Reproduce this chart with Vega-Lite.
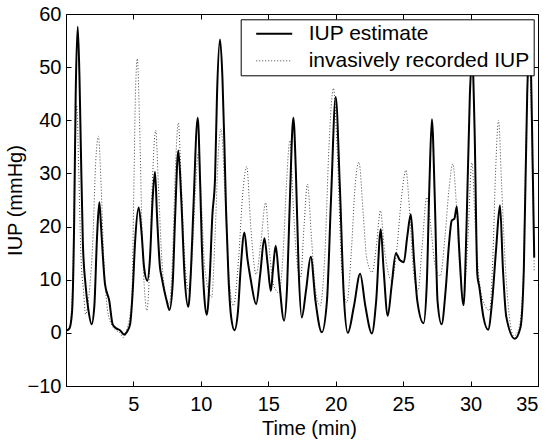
{
  "$schema": "https://vega.github.io/schema/vega-lite/v6.json",
  "width": 472,
  "height": 372,
  "autosize": {"type": "none"},
  "padding": {"left": 66, "top": 14, "right": 12, "bottom": 58},
  "background": "white",
  "config": {
    "font": "Liberation Sans",
    "view": {"stroke": "black", "strokeWidth": 1},
    "axis": {
      "domainColor": "black", "domainWidth": 1, "tickColor": "black", "tickWidth": 1,
      "labelColor": "black", "titleColor": "black", "labelFontSize": 20, "titleFontSize": 20,
      "titleFontWeight": "normal", "grid": false, "labelFont": "Liberation Sans", "titleFont": "Liberation Sans"
    }
  },
  "data": {"values": [
    {"series":"est","time":0,"iup":0.4},{"series":"est","time":0.25,"iup":0.8},{"series":"est","time":0.45,"iup":4},{"series":"est","time":0.6,"iup":20},{"series":"est","time":0.72,"iup":45},{"series":"est","time":0.87,"iup":57.6},{"series":"est","time":1.0,"iup":48},{"series":"est","time":1.1,"iup":35},{"series":"est","time":1.25,"iup":17},{"series":"est","time":1.45,"iup":9},{"series":"est","time":1.65,"iup":4.5},{"series":"est","time":1.9,"iup":1.6},{"series":"est","time":2.1,"iup":5},{"series":"est","time":2.3,"iup":18},{"series":"est","time":2.47,"iup":24.6},{"series":"est","time":2.6,"iup":20},{"series":"est","time":2.72,"iup":15},{"series":"est","time":2.89,"iup":9.2},{"series":"est","time":3.21,"iup":6},{"series":"est","time":3.46,"iup":1.6},{"series":"est","time":3.76,"iup":0.8},{"series":"est","time":4.0,"iup":0.5},{"series":"est","time":4.3,"iup":-0.3},{"series":"est","time":4.55,"iup":0.3},{"series":"est","time":4.75,"iup":1.6},{"series":"est","time":4.95,"iup":8},{"series":"est","time":5.12,"iup":17},{"series":"est","time":5.39,"iup":23.6},{"series":"est","time":5.61,"iup":18.6},{"series":"est","time":5.79,"iup":12.3},{"series":"est","time":6.03,"iup":9.8},{"series":"est","time":6.23,"iup":14.2},{"series":"est","time":6.42,"iup":25},{"series":"est","time":6.6,"iup":30.3},{"series":"est","time":6.75,"iup":22},{"series":"est","time":6.97,"iup":12.3},{"series":"est","time":7.1,"iup":10.4},{"series":"est","time":7.47,"iup":6},{"series":"est","time":7.67,"iup":4.3},{"series":"est","time":7.91,"iup":9.2},{"series":"est","time":8.09,"iup":21.7},{"series":"est","time":8.33,"iup":34.3},{"series":"est","time":8.55,"iup":25},{"series":"est","time":8.8,"iup":10.4},{"series":"est","time":9.07,"iup":4.9},{"series":"est","time":9.27,"iup":12},{"series":"est","time":9.44,"iup":23},{"series":"est","time":9.77,"iup":40.5},{"series":"est","time":9.95,"iup":28},{"series":"est","time":10.07,"iup":16.7},{"series":"est","time":10.25,"iup":7},{"series":"est","time":10.44,"iup":3.4},{"series":"est","time":10.65,"iup":10},{"series":"est","time":10.85,"iup":22},{"series":"est","time":11.05,"iup":29},{"series":"est","time":11.2,"iup":45},{"series":"est","time":11.42,"iup":55.2},{"series":"est","time":11.6,"iup":48},{"series":"est","time":11.75,"iup":35},{"series":"est","time":11.87,"iup":23},{"series":"est","time":12.05,"iup":10.4},{"series":"est","time":12.25,"iup":2.9},{"series":"est","time":12.49,"iup":0.5},{"series":"est","time":12.75,"iup":4},{"series":"est","time":12.95,"iup":12},{"series":"est","time":13.23,"iup":18.9},{"series":"est","time":13.45,"iup":14},{"series":"est","time":13.7,"iup":10},{"series":"est","time":14.1,"iup":5.4},{"series":"est","time":14.4,"iup":11},{"series":"est","time":14.71,"iup":17.8},{"series":"est","time":14.95,"iup":13},{"series":"est","time":15.19,"iup":7.9},{"series":"est","time":15.35,"iup":12},{"series":"est","time":15.55,"iup":16.4},{"series":"est","time":15.8,"iup":10},{"series":"est","time":16.17,"iup":2.3},{"series":"est","time":16.4,"iup":9},{"series":"est","time":16.6,"iup":25},{"series":"est","time":16.86,"iup":40.5},{"series":"est","time":17.05,"iup":30},{"series":"est","time":17.25,"iup":12},{"series":"est","time":17.48,"iup":2.9},{"series":"est","time":17.8,"iup":8},{"series":"est","time":18.15,"iup":14.3},{"series":"est","time":18.5,"iup":6},{"series":"est","time":18.97,"iup":0.1},{"series":"est","time":19.35,"iup":6},{"series":"est","time":19.65,"iup":25},{"series":"est","time":20.0,"iup":44.4},{"series":"est","time":20.3,"iup":28},{"series":"est","time":20.6,"iup":7},{"series":"est","time":20.9,"iup":0},{"series":"est","time":21.35,"iup":5},{"series":"est","time":21.81,"iup":11.1},{"series":"est","time":22.2,"iup":5},{"series":"est","time":22.68,"iup":-0.1},{"series":"est","time":23.0,"iup":6},{"series":"est","time":23.34,"iup":19.5},{"series":"est","time":23.55,"iup":12},{"series":"est","time":23.86,"iup":3.2},{"series":"est","time":24.15,"iup":9},{"series":"est","time":24.46,"iup":15},{"series":"est","time":24.75,"iup":13.7},{"series":"est","time":25.05,"iup":13.3},{"series":"est","time":25.3,"iup":18},{"series":"est","time":25.57,"iup":22.3},{"series":"est","time":25.8,"iup":14},{"series":"est","time":26.05,"iup":6},{"series":"est","time":26.51,"iup":1.8},{"series":"est","time":26.75,"iup":9},{"series":"est","time":26.95,"iup":28},{"series":"est","time":27.13,"iup":40.2},{"series":"est","time":27.35,"iup":25},{"series":"est","time":27.55,"iup":6},{"series":"est","time":27.85,"iup":1.6},{"series":"est","time":28.15,"iup":8},{"series":"est","time":28.4,"iup":16.7},{"series":"est","time":28.6,"iup":21.1},{"series":"est","time":28.8,"iup":21.5},{"series":"est","time":28.98,"iup":23.8},{"series":"est","time":29.15,"iup":16},{"series":"est","time":29.48,"iup":5.2},{"series":"est","time":29.7,"iup":20},{"series":"est","time":29.95,"iup":45},{"series":"est","time":30.12,"iup":52},{"series":"est","time":30.3,"iup":38},{"series":"est","time":30.5,"iup":11},{"series":"est","time":30.65,"iup":8.6},{"series":"est","time":30.95,"iup":3},{"series":"est","time":31.3,"iup":0.6},{"series":"est","time":31.6,"iup":6},{"series":"est","time":31.9,"iup":16},{"series":"est","time":32.18,"iup":24},{"series":"est","time":32.4,"iup":12},{"series":"est","time":32.65,"iup":3},{"series":"est","time":33.28,"iup":-1.1},{"series":"est","time":33.7,"iup":1},{"series":"est","time":33.95,"iup":12},{"series":"est","time":34.2,"iup":45},{"series":"est","time":34.4,"iup":56},{"series":"est","time":34.55,"iup":40},{"series":"est","time":34.72,"iup":14.2},
    {"series":"inv","time":0,"iup":0.3},{"series":"inv","time":0.3,"iup":1.5},{"series":"inv","time":0.5,"iup":10},{"series":"inv","time":0.65,"iup":32},{"series":"inv","time":0.79,"iup":42.8},{"series":"inv","time":0.95,"iup":30},{"series":"inv","time":1.1,"iup":15},{"series":"inv","time":1.3,"iup":7.9},{"series":"inv","time":1.45,"iup":3.5},{"series":"inv","time":1.7,"iup":7},{"series":"inv","time":2.0,"iup":18},{"series":"inv","time":2.2,"iup":32},{"series":"inv","time":2.4,"iup":37},{"series":"inv","time":2.6,"iup":28},{"series":"inv","time":2.8,"iup":14},{"series":"inv","time":3.0,"iup":6},{"series":"inv","time":3.3,"iup":2},{"series":"inv","time":3.7,"iup":0.5},{"series":"inv","time":4.0,"iup":0},{"series":"inv","time":4.25,"iup":-0.9},{"series":"inv","time":4.5,"iup":0.5},{"series":"inv","time":4.87,"iup":6},{"series":"inv","time":5.05,"iup":30},{"series":"inv","time":5.15,"iup":45},{"series":"inv","time":5.29,"iup":51.6},{"series":"inv","time":5.45,"iup":40},{"series":"inv","time":5.65,"iup":18},{"series":"inv","time":5.85,"iup":7},{"series":"inv","time":6.0,"iup":4.2},{"series":"inv","time":6.2,"iup":12},{"series":"inv","time":6.4,"iup":28},{"series":"inv","time":6.65,"iup":38.1},{"series":"inv","time":6.85,"iup":28},{"series":"inv","time":7.1,"iup":14},{"series":"inv","time":7.4,"iup":7},{"series":"inv","time":7.66,"iup":5.4},{"series":"inv","time":7.9,"iup":14},{"series":"inv","time":8.1,"iup":30},{"series":"inv","time":8.33,"iup":39.5},{"series":"inv","time":8.55,"iup":28},{"series":"inv","time":8.8,"iup":14},{"series":"inv","time":9.1,"iup":8},{"series":"inv","time":9.35,"iup":14},{"series":"inv","time":9.6,"iup":27},{"series":"inv","time":9.82,"iup":34},{"series":"inv","time":10.05,"iup":24},{"series":"inv","time":10.3,"iup":12},{"series":"inv","time":10.8,"iup":6.7},{"series":"inv","time":11.05,"iup":18},{"series":"inv","time":11.3,"iup":34},{"series":"inv","time":11.5,"iup":38.4},{"series":"inv","time":11.75,"iup":28},{"series":"inv","time":12.0,"iup":14},{"series":"inv","time":12.41,"iup":5.1},{"series":"inv","time":12.8,"iup":14},{"series":"inv","time":13.1,"iup":26},{"series":"inv","time":13.4,"iup":31.3},{"series":"inv","time":13.7,"iup":20},{"series":"inv","time":14.1,"iup":11},{"series":"inv","time":14.45,"iup":17},{"series":"inv","time":14.8,"iup":24.5},{"series":"inv","time":15.1,"iup":15},{"series":"inv","time":15.4,"iup":9},{"series":"inv","time":15.8,"iup":7.5},{"series":"inv","time":16.1,"iup":15},{"series":"inv","time":16.35,"iup":28},{"series":"inv","time":16.6,"iup":36.2},{"series":"inv","time":16.85,"iup":24},{"series":"inv","time":17.1,"iup":14},{"series":"inv","time":17.4,"iup":10.4},{"series":"inv","time":17.65,"iup":20},{"series":"inv","time":17.9,"iup":28},{"series":"inv","time":18.2,"iup":18},{"series":"inv","time":18.5,"iup":8},{"series":"inv","time":18.84,"iup":5.1},{"series":"inv","time":19.2,"iup":15},{"series":"inv","time":19.5,"iup":35},{"series":"inv","time":19.83,"iup":46},{"series":"inv","time":20.1,"iup":35},{"series":"inv","time":20.45,"iup":12},{"series":"inv","time":20.82,"iup":5.7},{"series":"inv","time":21.15,"iup":15},{"series":"inv","time":21.45,"iup":28},{"series":"inv","time":21.72,"iup":32.1},{"series":"inv","time":22.05,"iup":22},{"series":"inv","time":22.3,"iup":14},{"series":"inv","time":22.7,"iup":11.4},{"series":"inv","time":23.0,"iup":16},{"series":"inv","time":23.32,"iup":23},{"series":"inv","time":23.6,"iup":16},{"series":"inv","time":24.16,"iup":9.8},{"series":"inv","time":24.5,"iup":15},{"series":"inv","time":24.9,"iup":26},{"series":"inv","time":25.2,"iup":30.6},{"series":"inv","time":25.5,"iup":22},{"series":"inv","time":25.75,"iup":12},{"series":"inv","time":26.1,"iup":7.9},{"series":"inv","time":26.4,"iup":16},{"series":"inv","time":26.75,"iup":25.5},{"series":"inv","time":27.05,"iup":20},{"series":"inv","time":27.35,"iup":13},{"series":"inv","time":27.75,"iup":10.7},{"series":"inv","time":28.1,"iup":18},{"series":"inv","time":28.4,"iup":27},{"series":"inv","time":28.68,"iup":31.8},{"series":"inv","time":28.95,"iup":24},{"series":"inv","time":29.2,"iup":12},{"series":"inv","time":29.45,"iup":6},{"series":"inv","time":29.75,"iup":15},{"series":"inv","time":30.1,"iup":32},{"series":"inv","time":30.35,"iup":20},{"series":"inv","time":30.7,"iup":8.6},{"series":"inv","time":31.1,"iup":5},{"series":"inv","time":31.4,"iup":4.2},{"series":"inv","time":31.65,"iup":14},{"series":"inv","time":31.85,"iup":30},{"series":"inv","time":32.07,"iup":40},{"series":"inv","time":32.3,"iup":28},{"series":"inv","time":32.55,"iup":14},{"series":"inv","time":32.8,"iup":5},{"series":"inv","time":33.2,"iup":-0.6},{"series":"inv","time":33.6,"iup":1},{"series":"inv","time":33.9,"iup":10},{"series":"inv","time":34.1,"iup":35},{"series":"inv","time":34.35,"iup":53},{"series":"inv","time":34.55,"iup":35},{"series":"inv","time":34.72,"iup":11.6}
  ]},
  "layer": [
    {
      "transform": [{"filter": "datum.series == 'inv'"}],
      "mark": {"type": "line", "interpolate": "monotone", "clip": true, "strokeDash": [1, 2], "strokeWidth": 1},
      "encoding": {
        "x": {"field": "time", "type": "quantitative", "scale": {"domain": [0, 35], "nice": false, "zero": false},
              "axis": {"title": "Time (min)", "values": [5, 10, 15, 20, 25, 30, 35], "tickSize": -5, "labelPadding": 13, "titlePadding": 4, "titleX": 243}},
        "y": {"field": "iup", "type": "quantitative", "scale": {"domain": [-10, 60], "nice": false, "zero": false},
              "axis": {"title": "IUP (mmHg)", "values": [-10, 0, 10, 20, 30, 40, 50, 60], "tickSize": -5, "labelPadding": 10, "titlePadding": 2}},
        "color": {"field": "series", "type": "nominal", "scale": {"domain": ["est", "inv"], "range": ["black", "#444444"]},
                  "legend": {"orient": "none", "legendX": 174.7, "legendY": 5.3, "title": null, "fillColor": "white", "strokeColor": "black", "padding": 4, "symbolType": "M0.1667,0H6.1667", "symbolSize": 144, "labelFontSize": 21, "labelOffset": 43, "rowPadding": 5, "labelLimit": 0, "labelColor": "black", "labelFont": "Liberation Sans",
                             "labelExpr": "datum.label == 'est' ? 'IUP estimate' : 'invasively recorded IUP\u00a0'",
                             "encode": {"symbols": {"update": {"strokeDash": {"signal": "datum.value == 'inv' ? [1, 2] : [1, 0]"}, "strokeWidth": {"signal": "datum.value == 'inv' ? 1 : 2"}}}}}}
      }
    },
    {
      "transform": [{"filter": "datum.series == 'est'"}],
      "mark": {"type": "line", "interpolate": "monotone", "clip": true, "strokeWidth": 2},
      "encoding": {
        "x": {"field": "time", "type": "quantitative", "axis": {"orient": "top", "title": null, "labels": false, "values": [5, 10, 15, 20, 25, 30, 35], "tickSize": -5, "domain": false}},
        "y": {"field": "iup", "type": "quantitative", "axis": {"orient": "right", "title": null, "labels": false, "values": [-10, 0, 10, 20, 30, 40, 50, 60], "tickSize": -5, "domain": false}},
        "color": {"field": "series", "type": "nominal"}
      }
    }
  ],
  "resolve": {"axis": {"x": "independent", "y": "independent"}}
}
